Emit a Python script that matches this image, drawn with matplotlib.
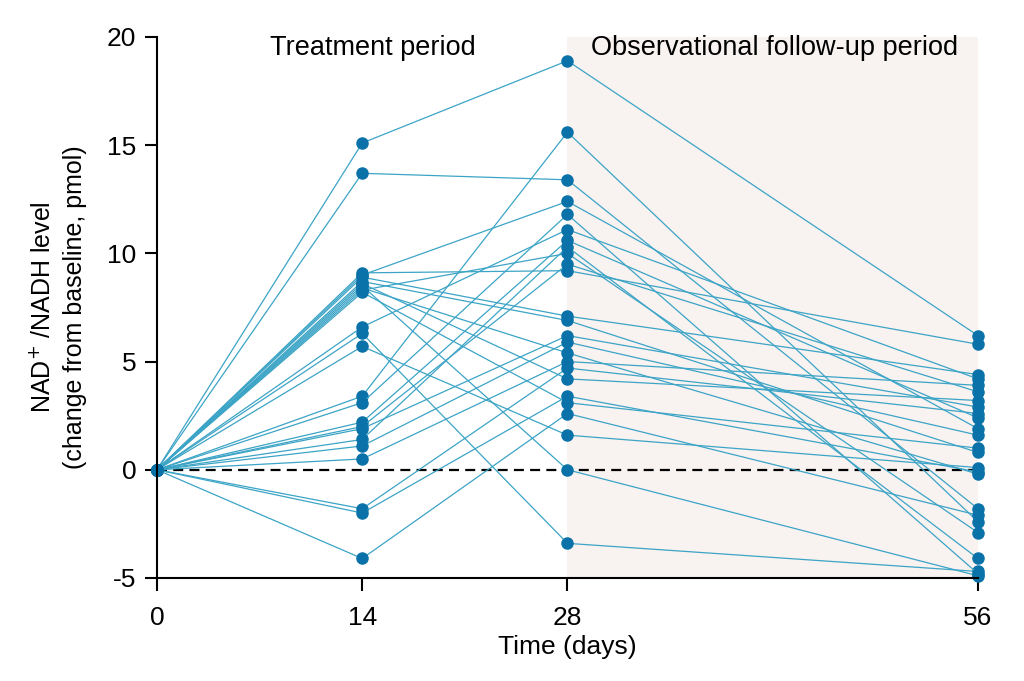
import numpy as np
import matplotlib
matplotlib.use("Agg")
import matplotlib.pyplot as plt

plt.rcParams['font.family'] = ['Liberation Sans', 'DejaVu Sans']
plt.rcParams['axes.unicode_minus'] = False

days = [0, 14, 28, 56]

# change from baseline per subject at day 14, 28 and 56 (day 0 is always 0)
day14 = [15.1, 13.7, 3.4, 9.1, 9.0, 8.9, 8.7, 8.6, 8.5, 8.4, 8.3, 8.2, 6.6,
         6.3, 5.7, 3.1, 2.2, 2.0, 1.9, 1.4, 1.1, 0.5, -1.8, -2.0, -4.1]
day28 = [18.9, 13.4, 15.6, 9.2, 12.4, 7.1, 6.9, 4.2, 0.0, 5.4, 10.0, 3.1, 11.1,
         -3.4, 1.6, 11.8, 10.6, 9.5, 6.2, 10.3, 5.9, 5.0, 4.7, 3.4, 2.6]
day56 = [6.2, -1.8, -2.4, 5.8, 1.9, 4.4, 0.8, 3.2, -4.9, -0.2, -2.9, 1.0, 4.2,
         -4.7, 0.1, -4.8, 2.4, 3.6, 2.9, -4.1, 1.6, 3.9, 2.6, -0.1, -2.1]

line_col = "#3ca4c6"
dot_col = "#0a72a8"

fig = plt.figure(figsize=(10.24, 6.81), dpi=100)
ax = fig.add_axes([0.1533, 0.1513, 0.8017, 0.7944])

ax.axvspan(28, 56, color="#f8f2f1", zorder=0, lw=0)
ax.axhline(0, color="black", ls=(0, (4.5, 2.8)), lw=1.6, zorder=1)

for a, b, c in zip(day14, day28, day56):
    ax.plot(days, [0, a, b, c], color=line_col, lw=0.9, zorder=2,
            marker="o", ms=8, mfc=dot_col, mec=dot_col, clip_on=False)

ax.set_xlim(0, 56)
ax.set_ylim(-5, 20)
ax.set_xticks(days)
ax.set_yticks([-5, 0, 5, 10, 15, 20])
for s in ["top", "right"]:
    ax.spines[s].set_visible(False)
for s in ["left", "bottom"]:
    ax.spines[s].set_linewidth(1.5)
ax.tick_params(length=9, width=1.5, labelsize=19)
ax.tick_params(axis="x", pad=11)
ax.tick_params(axis="y", pad=6)

ax.set_xlabel("Time (days)", fontsize=19, labelpad=4)
ax.set_ylabel("NAD$^{+}$ /NADH level\n(change from baseline, pmol)", fontsize=18,
              labelpad=14, linespacing=1.45)

ax.text(14.7, 19.5, "Treatment period", fontsize=19.5, ha="center", va="center")
ax.text(42.1, 19.5, "Observational follow-up period", fontsize=19.5,
        ha="center", va="center")

fig.savefig("out.png", dpi=100)
